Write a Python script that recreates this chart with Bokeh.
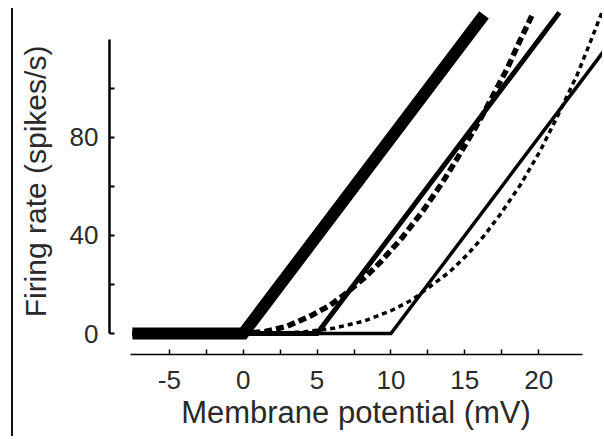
from bokeh.plotting import figure
from bokeh.models import Range1d, Div, FixedTicker
from bokeh.layouts import row
from bokeh.embed import file_html
from bokeh.resources import INLINE

# Threshold-linear models (thresholds 0, 5, 10 mV)
thick_x = [-7.5, 0.0, 16.3]
thick_y = [0.0, 0.0, 130.0]
medium_x = [-7.5, 5.0, 21.4]
medium_y = [0.0, 0.0, 131.0]
thin_x = [-7.5, 10.0, 25.0]
thin_y = [0.0, 0.0, 120.0]

# Power-law curves
dash_x = [-7.5, 0.0, 1.5, 3.0, 4.6, 5.9, 7.0, 8.2, 9.3, 10.7, 12.2, 13.5, 14.5, 15.6, 16.3, 17.2, 17.9, 18.6, 19.6]
dash_y = [0.0, 0.0, 0.8, 3.0, 7.3, 11.6, 16.6, 22.7, 29.2, 38.7, 50.3, 61.8, 71.6, 82.8, 90.2, 100.5, 108.5, 117.8, 130.5]
dot_x = [-7.5, 0.0, 2.0, 4.0, 6.1, 8.2, 10.0, 11.4, 12.9, 14.0, 15.2, 16.3, 17.4, 18.8, 20.1, 21.3, 22.6, 23.5, 24.6]
dot_y = [0.0, 0.0, 0.1, 0.6, 2.1, 5.1, 9.3, 13.6, 20.3, 25.3, 32.4, 39.9, 48.6, 61.0, 74.5, 89.0, 105.5, 119.0, 136.0]

x_major = [-5, 0, 5, 10, 15, 20]
x_minor = [-2.5, 2.5, 7.5, 12.5, 17.5]
y_major = [0, 40, 80]
y_minor = [20, 60, 100]

FONT = "Liberation Sans"
TXT = "#2a2a2a"

p = figure(width=587, height=435, output_backend="svg", toolbar_location=None,
           x_range=Range1d(-9.05, 24.32), y_range=Range1d(-8.57, 132.65),
           min_border_left=93, min_border_right=0, min_border_top=8,
           min_border_bottom=81)
p.outline_line_color = None
p.grid.visible = False
p.background_fill_color = "white"
p.border_fill_color = "white"

xa = p.xaxis[0]
xa.ticker = FixedTicker(ticks=x_major, minor_ticks=x_minor)
xa.major_label_overrides = {-5: "-5"}
xa.bounds = (-7.6, 23.0)
xa.axis_line_width = 1.5
xa.major_tick_in = 5
xa.major_tick_out = 0
xa.minor_tick_in = 5
xa.minor_tick_out = 0
xa.major_tick_line_width = 1.5
xa.minor_tick_line_width = 1.5
xa.major_label_text_font = FONT
xa.major_label_text_font_size = "26px"
xa.major_label_text_color = TXT
xa.major_label_standoff = 16
xa.axis_label = "Membrane potential (mV)"
xa.axis_label_text_font = FONT
xa.axis_label_text_font_size = "31px"
xa.axis_label_text_font_style = "normal"
xa.axis_label_text_color = TXT
xa.axis_label_standoff = 3

ya = p.yaxis[0]
ya.ticker = FixedTicker(ticks=y_major, minor_ticks=y_minor)
ya.bounds = (0, 120)
ya.axis_line_width = 2.5
ya.major_tick_in = 5
ya.major_tick_out = 0
ya.minor_tick_in = 5
ya.minor_tick_out = 0
ya.major_tick_line_width = 2
ya.minor_tick_line_width = 2
ya.major_label_text_font = FONT
ya.major_label_text_font_size = "26px"
ya.major_label_text_color = TXT
ya.major_label_standoff = 11
ya.axis_label = "Firing rate (spikes/s)"
ya.axis_label_text_font = FONT
ya.axis_label_text_font_size = "30px"
ya.axis_label_text_font_style = "normal"
ya.axis_label_text_color = TXT
ya.axis_label_standoff = 15

p.line(thick_x, thick_y, line_width=12, line_color="black", line_join="miter", line_cap="butt")
p.line(medium_x, medium_y, line_width=5, line_color="black", line_join="miter", line_cap="butt")
p.line(thin_x, thin_y, line_width=3.5, line_color="black", line_join="miter", line_cap="butt")
p.line(dash_x, dash_y, line_width=5.5, line_color="black", line_dash="8 4", line_cap="butt")
p.line(dot_x, dot_y, line_width=3.5, line_color="black", line_dash="5 4", line_cap="butt")

edge = Div(text="", width=2, height=428, margin=(8, 2, 0, 11),
           styles={"background-color": "#111111"})
layout = row(edge, p, spacing=0)

open("out.html", "w").write(file_html(layout, INLINE))
